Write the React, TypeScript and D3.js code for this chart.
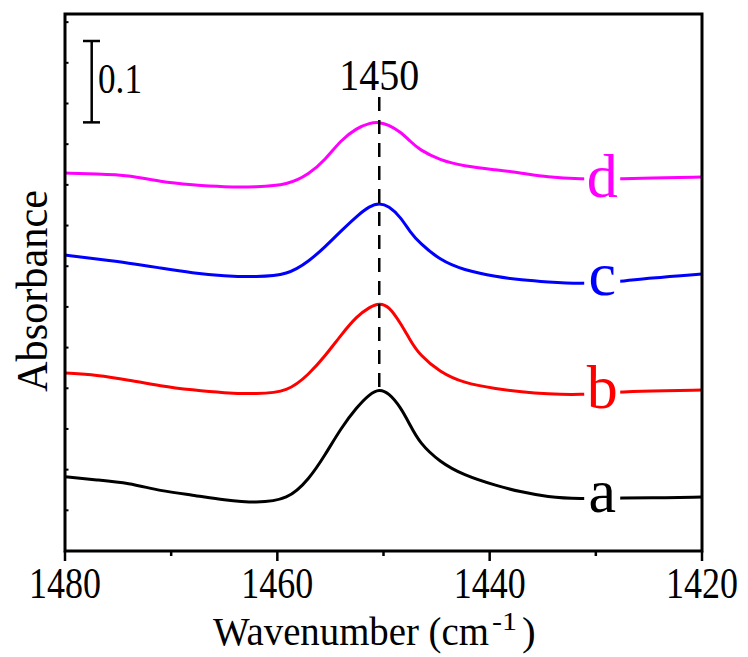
import React, { useEffect, useLayoutEffect, useRef, useState } from "react";
import * as d3 from "d3";

// Wavenumber grid (cm-1)
const wavenumbers = [
  1480, 1477, 1474, 1471, 1468, 1465, 1462, 1459, 1457, 1455.5, 1454, 1452.5,
  1451.3, 1450.4, 1449.5, 1448.4, 1447.5, 1446.6, 1444.7, 1442.5, 1439.3, 1437,
  1434.6, 1431.5, 1428, 1425, 1420,
];

// Absorbance (offset) for each spectrum
const seriesA = [
  0.0913, 0.0873, 0.0836, 0.0737, 0.0688, 0.0627, 0.059, 0.0627, 0.0885, 0.118,
  0.1512, 0.177, 0.193, 0.1991, 0.1942, 0.177, 0.1549, 0.1327, 0.1094, 0.0934,
  0.0799, 0.0725, 0.0664, 0.0639, 0.0651, 0.0651, 0.0664,
];
const seriesB = [
  0.2188, 0.2163, 0.2102, 0.2028, 0.1979, 0.1942, 0.193, 0.1954, 0.2176, 0.2397,
  0.2655, 0.2888, 0.2999, 0.3048, 0.3011, 0.2802, 0.2593, 0.2409, 0.22, 0.2065,
  0.1991, 0.1954, 0.193, 0.1917, 0.1954, 0.1967, 0.1979,
];
const seriesC = [
  0.3638, 0.3589, 0.354, 0.3478, 0.3417, 0.338, 0.3368, 0.3392, 0.3564, 0.3737,
  0.3933, 0.4118, 0.424, 0.4277, 0.424, 0.4105, 0.3921, 0.3786, 0.3577, 0.3454,
  0.3368, 0.3331, 0.3306, 0.3282, 0.3306, 0.3355, 0.3405,
];
const seriesD = [
  0.4646, 0.4634, 0.4621, 0.4535, 0.4499, 0.4474, 0.4474, 0.4499, 0.4634, 0.4806,
  0.5052, 0.5199, 0.5261, 0.5273, 0.5236, 0.515, 0.5039, 0.4929, 0.4806, 0.4732,
  0.4683, 0.4646, 0.4597, 0.4572, 0.4572, 0.4585, 0.4597,
];

const seriesNames = ["a", "b", "c", "d"];
const seriesColors = ["#000000", "#ff0000", "#0000ff", "#ff00ff"];
const seriesValues = [seriesA, seriesB, seriesC, seriesD];
const labelDy = [14, 16, 13, 18];

const xMajorTicks = [1480, 1460, 1440, 1420];
const xMinorTicks = [1470, 1450, 1430];
const yTicks = [0, 0.05, 0.1, 0.15, 0.2, 0.25, 0.3, 0.35, 0.4, 0.45, 0.5, 0.55, 0.6, 0.65];
const peakPosition = 1450.4;
const labelPosition = 1429.4;
const scaleBarValue = 0.1;

const FONT = "Liberation Serif, Times New Roman, DejaVu Serif, serif";

// Text horizontally scaled to a target width (measured after render)
function FitText(props: {
  x: number;
  y: number;
  width: number;
  size: number;
  anchor?: string;
  fill?: string;
  rotate?: number;
  children: React.ReactNode;
}) {
  const { x, y, width, size, anchor, fill, rotate, children } = props;
  const ref = useRef<SVGTextElement>(null);
  const [sx, setSx] = useState(1);
  useLayoutEffect(() => {
    if (ref.current) {
      const len = ref.current.getComputedTextLength();
      if (len > 0) setSx(width / len);
    }
  }, [width, size, children]);
  return (
    <g transform={`translate(${x},${y})${rotate ? ` rotate(${rotate})` : ""}`}>
      <text
        ref={ref}
        transform={`scale(${sx},1)`}
        fontSize={size}
        textAnchor={anchor || "start"}
        fill={fill || "#000"}
      >
        {children}
      </text>
    </g>
  );
}

export default function App() {
  useEffect(() => {
    document.body.style.margin = "0";
  }, []);

  const left = 65, right = 702, top = 14, bottom = 551;
  const x = d3.scaleLinear().domain([1480, 1420]).range([left, right]);
  const y = d3.scaleLinear().domain([0, 0.66]).range([bottom, top]);

  const line = d3
    .line<number>()
    .x((_, i) => x(wavenumbers[i]))
    .y((d) => y(d))
    .curve(d3.curveBasis);

  const labelIdx = wavenumbers.indexOf(1428);
  const px = x(peakPosition);
  const lx = x(labelPosition);

  const barX = 91.7;
  const barTop = 41;
  const barBottom = barTop + (y(0) - y(scaleBarValue));

  return (
    <svg width={748} height={657} style={{ display: "block", background: "#fff", fontFamily: FONT }}>
      {/* curves */}
      {seriesValues.map((vals, i) => (
        <path key={i} d={line(vals) || ""} fill="none" stroke={seriesColors[i]} strokeWidth={3} />
      ))}
      {/* labels with gaps */}
      {seriesValues.map((vals, i) => {
        const base = y(vals[labelIdx]) + labelDy[i];
        return (
          <g key={"l" + i}>
            <rect x={lx - 18} y={base - 48} width={36} height={56} fill="#fff" />
            <text x={lx} y={base} textAnchor="middle" fontSize={62} fill={seriesColors[i]}>
              {seriesNames[i]}
            </text>
          </g>
        );
      })}
      {/* dashed peak marker */}
      <line
        x1={px}
        x2={px}
        y1={97}
        y2={y(d3.max(seriesA) as number)}
        stroke="#000"
        strokeWidth={2.5}
        strokeDasharray="14,9"
      />
      <FitText x={px} y={90} width={80} size={44} anchor="middle">
        1450
      </FitText>
      {/* scale bar */}
      <g stroke="#000" strokeWidth={2.5}>
        <line x1={barX} x2={barX} y1={barTop} y2={barBottom} />
        <line x1={83} x2={100} y1={barTop} y2={barTop} />
        <line x1={83} x2={100} y1={barBottom} y2={barBottom} />
      </g>
      <FitText x={98} y={93} width={44} size={42}>
        0.1
      </FitText>
      {/* y ticks (inward) */}
      {yTicks.map((t) => (
        <line key={"yt" + t} x1={left} x2={left + 3.5} y1={y(t)} y2={y(t)} stroke="#000" strokeWidth={2} />
      ))}
      {/* x ticks */}
      {xMajorTicks.map((t) => (
        <line key={"xM" + t} x1={x(t)} x2={x(t)} y1={bottom} y2={bottom + 10} stroke="#000" strokeWidth={2.5} />
      ))}
      {xMinorTicks.map((t) => (
        <line key={"xm" + t} x1={x(t)} x2={x(t)} y1={bottom} y2={bottom + 5} stroke="#000" strokeWidth={2.5} />
      ))}
      {xMajorTicks.map((t) => (
        <FitText key={"xl" + t} x={x(t)} y={598} width={72} size={44} anchor="middle">
          {t}
        </FitText>
      ))}
      {/* frame */}
      <rect x={left} y={top} width={right - left} height={bottom - top} fill="none" stroke="#000" strokeWidth={3} />
      {/* axis titles */}
      <FitText x={213} y={645} width={276} size={41}>
        Wavenumber (cm
      </FitText>
      <FitText x={492} y={630} width={25} size={25}>
        -1
      </FitText>
      <text x={522} y={645} fontSize={41}>
        )
      </text>
      <FitText x={47} y={392} rotate={-90} width={202} size={45}>
        Absorbance
      </FitText>
    </svg>
  );
}
